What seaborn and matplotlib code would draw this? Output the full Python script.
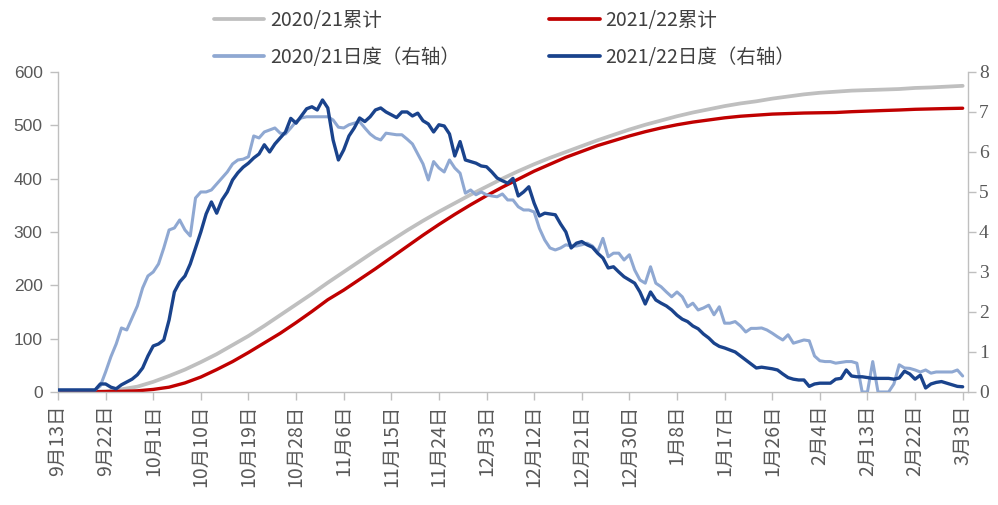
import numpy as np
import pandas as pd
import matplotlib
matplotlib.use("Agg")
import matplotlib.pyplot as plt
import seaborn as sns

# ---------------- data ----------------
tick_labels = ['9月13日', '9月22日', '10月1日', '10月10日', '10月19日', '10月28日',
               '11月6日', '11月15日', '11月24日', '12月3日', '12月12日', '12月21日',
               '12月30日', '1月8日', '1月17日', '1月26日', '2月4日', '2月13日',
               '2月22日', '3月3日']

series_names = ['2020/21累计', '2021/22累计', '2020/21日度（右轴）', '2021/22日度（右轴）']

# daily values (right axis), one per day from 9/13 to 3/3
daily_2020_21 = [
    0.05, 0.05, 0.05, 0.05, 0.05, 0.05, 0.05, 0.05, 0.15, 0.50,
    0.88, 1.20, 1.60, 1.55, 1.85, 2.15, 2.60, 2.90, 3.00, 3.20,
    3.60, 4.05, 4.10, 4.30, 4.05, 3.90, 4.85, 5.00, 5.00, 5.05,
    5.20, 5.35, 5.50, 5.70, 5.80, 5.82, 5.88, 6.40, 6.35, 6.50,
    6.55, 6.60, 6.47, 6.45, 6.60, 6.76, 6.85, 6.88, 6.88, 6.88,
    6.88, 6.88, 6.80, 6.62, 6.60, 6.68, 6.72, 6.76, 6.60, 6.45,
    6.35, 6.30, 6.47, 6.45, 6.43, 6.43, 6.32, 6.20, 5.95, 5.70,
    5.30, 5.76, 5.60, 5.50, 5.80, 5.60, 5.47, 4.97, 5.05, 4.93,
    5.00, 4.93, 4.90, 4.88, 4.95, 4.80, 4.80, 4.63, 4.55, 4.55,
    4.50, 4.09, 3.80, 3.60, 3.55, 3.60, 3.68, 3.65, 3.65, 3.68,
    3.72, 3.65, 3.50, 3.84, 3.38, 3.47, 3.47, 3.30, 3.43, 3.05,
    2.80, 2.72, 3.13, 2.72, 2.63, 2.50, 2.38, 2.50, 2.38, 2.13,
    2.22, 2.05, 2.10, 2.17, 1.93, 2.13, 1.72, 1.72, 1.76, 1.65,
    1.50, 1.59, 1.59, 1.60, 1.55, 1.47, 1.38, 1.30, 1.43, 1.22,
    1.26, 1.30, 1.28, 0.90, 0.78, 0.76, 0.76, 0.72, 0.74, 0.76,
    0.76, 0.72, 0.00, 0.00, 0.76, 0.00, 0.00, 0.00, 0.20, 0.68,
    0.60, 0.59, 0.55, 0.50, 0.55, 0.47, 0.50, 0.50, 0.50, 0.50,
    0.55, 0.40,
]

daily_2021_22 = [
    0.05, 0.05, 0.05, 0.05, 0.05, 0.05, 0.05, 0.05, 0.20, 0.20,
    0.12, 0.08, 0.18, 0.25, 0.32, 0.43, 0.60, 0.90, 1.15, 1.20,
    1.30, 1.80, 2.50, 2.75, 2.90, 3.20, 3.60, 4.00, 4.45, 4.75,
    4.47, 4.80, 5.00, 5.30, 5.48, 5.62, 5.72, 5.85, 5.95, 6.18,
    6.00, 6.20, 6.35, 6.50, 6.84, 6.72, 6.90, 7.08, 7.13, 7.05,
    7.30, 7.10, 6.30, 5.80, 6.05, 6.40, 6.60, 6.85, 6.76, 6.88,
    7.05, 7.10, 7.00, 6.93, 6.86, 7.00, 7.00, 6.90, 6.97, 6.78,
    6.70, 6.50, 6.68, 6.65, 6.45, 5.90, 6.26, 5.80, 5.76, 5.72,
    5.65, 5.63, 5.50, 5.35, 5.28, 5.22, 5.34, 4.90, 5.00, 5.13,
    4.72, 4.40, 4.47, 4.45, 4.43, 4.20, 4.00, 3.60, 3.72, 3.76,
    3.68, 3.62, 3.47, 3.35, 3.10, 3.13, 3.00, 2.88, 2.80, 2.72,
    2.50, 2.20, 2.50, 2.30, 2.22, 2.15, 2.05, 1.92, 1.82, 1.76,
    1.65, 1.58, 1.45, 1.35, 1.22, 1.14, 1.10, 1.05, 1.00, 0.90,
    0.80, 0.70, 0.60, 0.62, 0.60, 0.58, 0.55, 0.45, 0.36, 0.32,
    0.30, 0.30, 0.14, 0.20, 0.22, 0.22, 0.22, 0.32, 0.34, 0.55,
    0.40, 0.38, 0.38, 0.36, 0.34, 0.34, 0.34, 0.34, 0.32, 0.35,
    0.52, 0.45, 0.32, 0.42, 0.10, 0.20, 0.24, 0.26, 0.22, 0.18,
    0.14, 0.13,
]

# cumulative values (left axis), read every third day
cum_2020_21 = [
    0, 0.2, 0.4, 1, 5, 10, 19, 30, 42, 56,
    71, 88, 105, 124, 144, 164, 184, 205, 225, 245,
    265, 284, 303, 321, 338, 354, 370, 385, 400, 414,
    427, 439, 450, 461, 472, 482, 492, 501, 509, 517,
    524, 530, 536, 541, 545, 550, 554, 558, 561, 563,
    565, 566, 567, 568, 570, 571, 572.5, 574,
]
cum_2021_22 = [
    0, 0.2, 0.4, 0.8, 1.2, 2.2, 4.8, 9, 17, 28,
    42, 57, 74, 92, 110, 130, 151, 173, 191, 211,
    231, 252, 273, 294, 314, 333, 351, 368, 384, 399,
    414, 427, 440, 451, 462, 471, 480, 488, 495, 501,
    506, 510, 514, 517, 519, 521, 522, 523, 523.5, 524,
    525.5, 526.6, 527.7, 528.7, 530, 530.7, 531.4, 532,
]

start = pd.Timestamp('2021-09-13')
daily_dates = start + pd.to_timedelta(np.arange(len(daily_2021_22)), unit='D')
cum_dates = pd.date_range(start, periods=len(cum_2021_22), freq='3D')
tick_dates = pd.date_range(start, periods=len(tick_labels), freq='9D')

# ---------------- style ----------------
sns.set_theme(style='white')
plt.rcParams['font.family'] = ['Noto Sans CJK SC', 'DejaVu Sans']

C_GRAY = '#BFBFBF'
C_RED = '#C00000'
C_LBLUE = '#8FA8D2'
C_DBLUE = '#1A438C'
AX_COL = '#BFBFBF'
TXT = '#595959'

fig = plt.figure(figsize=(9.98, 5.05), dpi=100)
ax = fig.add_axes([0.0581, 0.2238, 0.9118, 0.6337])
ax2 = ax.twinx()

sns.lineplot(x=cum_dates, y=cum_2020_21, ax=ax, color=C_GRAY, linewidth=2.7, legend=False)
sns.lineplot(x=cum_dates, y=cum_2021_22, ax=ax, color=C_RED, linewidth=2.4, legend=False)
sns.lineplot(x=daily_dates, y=daily_2020_21, ax=ax2, color=C_LBLUE, linewidth=2.2, legend=False)
sns.lineplot(x=daily_dates, y=daily_2021_22, ax=ax2, color=C_DBLUE, linewidth=2.4, legend=False)

ax.set_xlim(start, start + pd.Timedelta(days=172))
ax.set_ylim(0, 600)
ax2.set_ylim(0, 8)
ax.set_yticks(np.arange(0, 700, 100))
ax2.set_yticks(np.arange(0, 9, 1))
ax.set_xticks(tick_dates)
ax.set_xticklabels(tick_labels, rotation=90, fontsize=14, color=TXT)
ax.set_xlabel('')
ax.set_ylabel('')
ax2.set_ylabel('')

for a in (ax, ax2):
    a.grid(False)
    a.spines['top'].set_visible(False)
    for s in a.spines.values():
        s.set_color(AX_COL)
        s.set_linewidth(1.0)
ax.spines['right'].set_visible(False)
ax2.spines['left'].set_visible(False)
ax2.spines['bottom'].set_visible(False)

ax.tick_params(axis='x', direction='out', length=6, width=1, color=AX_COL, pad=3,
               bottom=True)
ax.tick_params(axis='y', direction='out', length=6, width=1, color=AX_COL, pad=5,
               left=True, labelsize=12.5, labelcolor=TXT)
ax2.tick_params(axis='y', direction='out', length=6, width=1, color=AX_COL, pad=2,
                right=True, labelsize=14, labelcolor=TXT)
for lbl in ax.get_yticklabels():
    lbl.set_family(['Liberation Sans Narrow', 'Liberation Sans', 'DejaVu Sans'])
for lbl in ax2.get_yticklabels():
    lbl.set_family(['Liberation Serif', 'DejaVu Serif'])

# legend
h_gray = ax.lines[0]
h_red = ax.lines[1]
h_lb = ax2.lines[0]
h_db = ax2.lines[1]
leg = fig.legend([h_gray, h_lb, h_red, h_db],
                 [series_names[0], series_names[2], series_names[1], series_names[3]],
                 ncol=2, loc='upper left', bbox_to_anchor=(0.214, 0.980),
                 frameon=False, fontsize=14, handlelength=2.6, handletextpad=0.3,
                 columnspacing=4.6, labelspacing=0.8, borderpad=0, borderaxespad=0)
for t in leg.get_texts():
    t.set_color('#404040')
for l in leg.get_lines():
    l.set_linewidth(2.7)

fig.savefig('out.png', dpi=100)
